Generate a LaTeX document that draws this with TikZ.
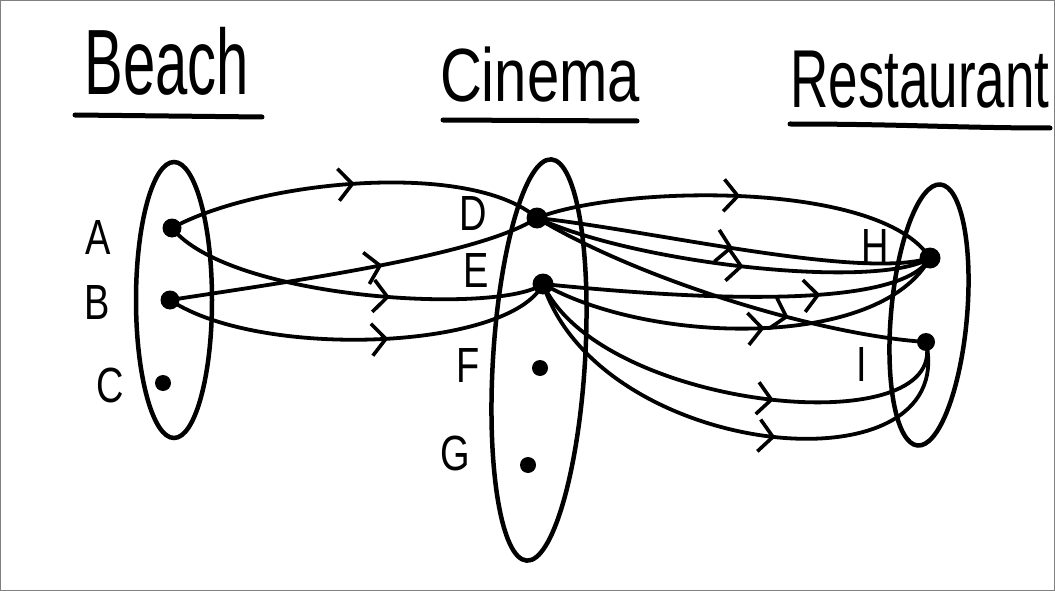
\documentclass[tikz,border=0pt]{standalone}
\usepackage{fontspec}
\setmainfont{Liberation Sans}
\usetikzlibrary{arrows.meta,decorations.markings}
\tikzset{
  dot/.style={circle,fill=black,inner sep=0pt,minimum size=#1},
  dot/.default=19pt,
  lbl/.style={inner sep=0pt,font=\fontsize{38}{38}\selectfont},
  ttl/.style={inner sep=0pt,anchor=base,font=\fontsize{#1}{#1}\selectfont},
  setline/.style={line width=4.5pt},
  uline/.style={line width=5pt,line cap=round},
  conn/.style={line width=3.8pt,line cap=round,postaction={decorate},
    decoration={markings,mark=at position #1 with {\arrow{Straight Barb[length=14pt,width=32pt,line width=3.6pt]}}}},
}
\begin{document}
\begin{tikzpicture}[x=1pt,y=-1pt]
\useasboundingbox (0,0) rectangle (1055,591);
\draw[gray,line width=1pt] (0.5,0.5) rectangle (1054.5,590.5);

% titles
\node[ttl=58] (tbeach) at (167,95) {\scalebox{1}[1.6]{Beach}};
\node[ttl=58] (tcinema) at (540,102) {\scalebox{1}[1.3]{Cinema}};
\node[ttl=53] (trest) at (920,108) {\scalebox{1}[1.55]{Restaurant}};
\draw[uline] (75,115) -- (262,117);
\draw[uline] (443,120) -- (637,121);
\draw[uline] (790,124) .. controls (900,124) and (960,128) .. (1050,128);

% sets
\draw[setline] (174,300) ellipse [x radius=38, y radius=138];
\draw[setline,rotate around={-3.5:(539,360)}] (539,360) ellipse [x radius=46, y radius=201];
\draw[setline,rotate around={-5:(929,315)}] (929,315) ellipse [x radius=38, y radius=131];

% elements
\node[dot] (A) at (172,228) {};
\node[dot] (B) at (170,300) {};
\node[dot=16pt] (C) at (163,383) {};
\node[dot=21pt] (D) at (537,218) {};
\node[dot=21pt] (E) at (543,284) {};
\node[dot=16pt] (F) at (540,368) {};
\node[dot=16pt] (G) at (528,465) {};
\node[dot=21pt] (H) at (930,258) {};
\node[dot=18pt] (I) at (926,342) {};

% labels
\node[lbl] (lA) at (98,238) {\scalebox{1}[1.3]{A}};
\node[lbl] (lB) at (97,303) {\scalebox{1}[1.3]{B}};
\node[lbl] (lC) at (110,385) {\scalebox{1}[1.3]{C}};
\node[lbl] (lD) at (473,214) {\scalebox{1}[1.3]{D}};
\node[lbl] (lE) at (476,271) {\scalebox{1}[1.3]{E}};
\node[lbl] (lF) at (468,366) {\scalebox{1}[1.3]{F}};
\node[lbl] (lG) at (455,453) {\scalebox{1}[1.3]{G}};
\node[lbl] (lH) at (875,247) {\scalebox{1}[1.3]{H}};
\node[lbl] (lI) at (862,365) {\scalebox{1}[1.3]{I}};

% connectors Beach -> Cinema
\draw[conn=0.5] (A.center) .. controls (260,180) and (470,160) .. (D.center);
\draw[conn=0.6] (A.center) .. controls (230,300) and (500,315) .. (E.center);
\draw[conn=0.57] (B.center) .. controls (300,280) and (480,255) .. (D.center);
\draw[conn=0.57] (B.center) .. controls (260,360) and (510,350) .. (E.center);

% connectors Cinema -> Restaurant
\draw[conn=0.5] (D.center) .. controls (620,185) and (880,180) .. (H.center);
\draw[conn=0.5] (D.center) .. controls (650,230) and (860,280) .. (H.center);
\draw[conn=0.53] (D.center) .. controls (640,265) and (880,290) .. (H.center);
\draw[conn=0.66] (D.center) .. controls (640,280) and (820,335) .. (I.center);
\draw[conn=0.7] (E.center) .. controls (700,300) and (900,310) .. (H.center);
\draw[conn=0.55] (E.center) .. controls (650,345) and (880,350) .. (H.center);
\draw[conn=0.59] (E.center) .. controls (600,410) and (950,445) .. (I.center);
\draw[conn=0.58] (E.center) .. controls (600,460) and (960,495) .. (I.center);
\end{tikzpicture}
\end{document}
